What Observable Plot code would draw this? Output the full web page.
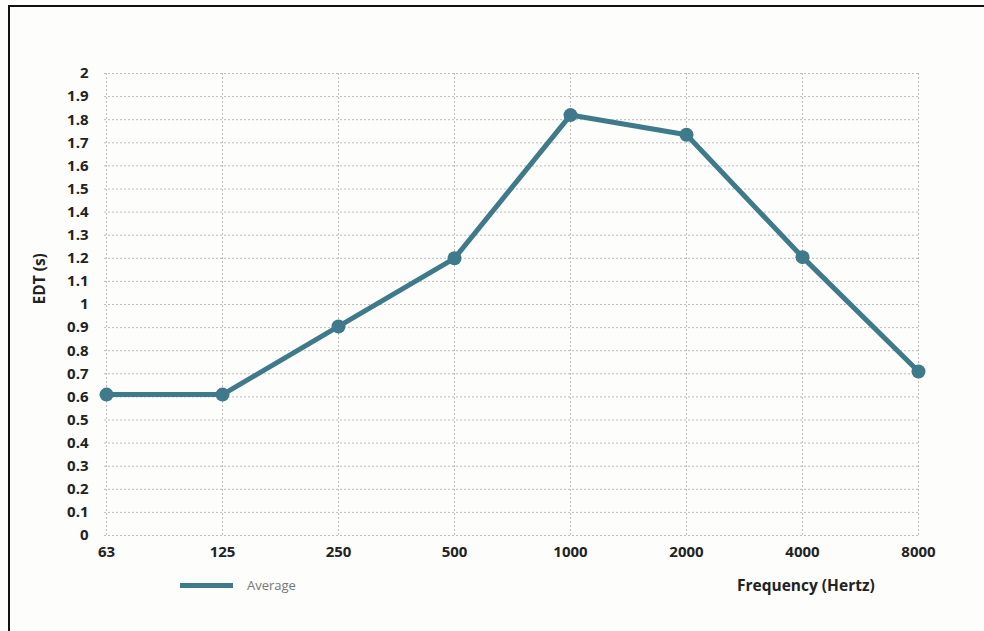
<!DOCTYPE html>
<html>
<head>
<meta charset="utf-8">
<script src="https://cdn.jsdelivr.net/npm/d3@7"></script>
<script src="https://cdn.jsdelivr.net/npm/@observablehq/plot@0.6"></script>
<style>
  html, body { margin: 0; padding: 0; background: #fdfdfb; overflow: hidden; }
  #wrap { position: relative; width: 984px; height: 631px; overflow: hidden; font-family: "Open Sans", sans-serif; }
  #topline { position: absolute; left: 8px; top: 5px; width: 976px; height: 2px; background: #111; }
  #leftline { position: absolute; left: 8px; top: 5px; width: 2px; height: 626px; background: #111; }
  #legend { position: absolute; left: 180px; top: 576px; display: flex; align-items: center; font-size: 13px; color: #777; }
  #legend .sw { width: 53px; height: 5px; background: #3f7a8b; margin-right: 14px; }
  #xlabel { position: absolute; left: 737px; top: 574px; font-size: 15.5px; font-weight: bold; color: #222; }
</style>
</head>
<body>
<div id="wrap">
  <div id="chart"></div>
  <div id="topline"></div>
  <div id="leftline"></div>
  <div id="legend"><div class="sw"></div><span id="legendText"></span></div>
  <div id="xlabel"></div>
</div>
<script>
const frequencies = ["63", "125", "250", "500", "1000", "2000", "4000", "8000"];
const edtAverage = [0.61, 0.61, 0.905, 1.2, 1.82, 1.735, 1.205, 0.71];
const yTicks = [0, 0.1, 0.2, 0.3, 0.4, 0.5, 0.6, 0.7, 0.8, 0.9, 1, 1.1, 1.2, 1.3, 1.4, 1.5, 1.6, 1.7, 1.8, 1.9, 2];
const seriesName = "Average";
const yLabel = "EDT (s)";
const xLabel = "Frequency (Hertz)";

const data = frequencies.map((f, i) => ({freq: f, edt: edtAverage[i]}));
const color = "#3f7a8b";

const chart = Plot.plot({
  width: 984,
  height: 631,
  marginLeft: 104,
  marginRight: 64,
  marginTop: 73,
  marginBottom: 96,
  style: {background: "transparent", fontFamily: "'Open Sans', sans-serif"},
  x: {type: "point", domain: frequencies, padding: 0},
  y: {domain: [0, 2]},
  marks: [
    Plot.gridY(yTicks, {stroke: "#aaa", strokeOpacity: 0.8, strokeDasharray: "2,2"}),
    Plot.gridX(frequencies, {stroke: "#aaa", strokeOpacity: 0.8, strokeDasharray: "2,2"}),
    Plot.axisY(yTicks, {tickSize: 0, tickPadding: 16, label: null, fontSize: 15, fontWeight: "bold", fill: "#222", tickFormat: d3.format("~g")}),
    Plot.axisX(frequencies, {tickSize: 0, tickPadding: 11, label: null, fontSize: 15, fontWeight: "bold", fill: "#222"}),
    Plot.text([yLabel], {frameAnchor: "left", dx: -64, rotate: -90, fontSize: 15.5, fontWeight: "bold", fill: "#222"}),
    Plot.line(data, {x: "freq", y: "edt", stroke: color, strokeWidth: 5}),
    Plot.dot(data, {x: "freq", y: "edt", r: 7, fill: color, stroke: "none"})
  ]
});
document.getElementById("chart").appendChild(chart);
document.getElementById("legendText").textContent = seriesName;
document.getElementById("xlabel").textContent = xLabel;
</script>
</body>
</html>
